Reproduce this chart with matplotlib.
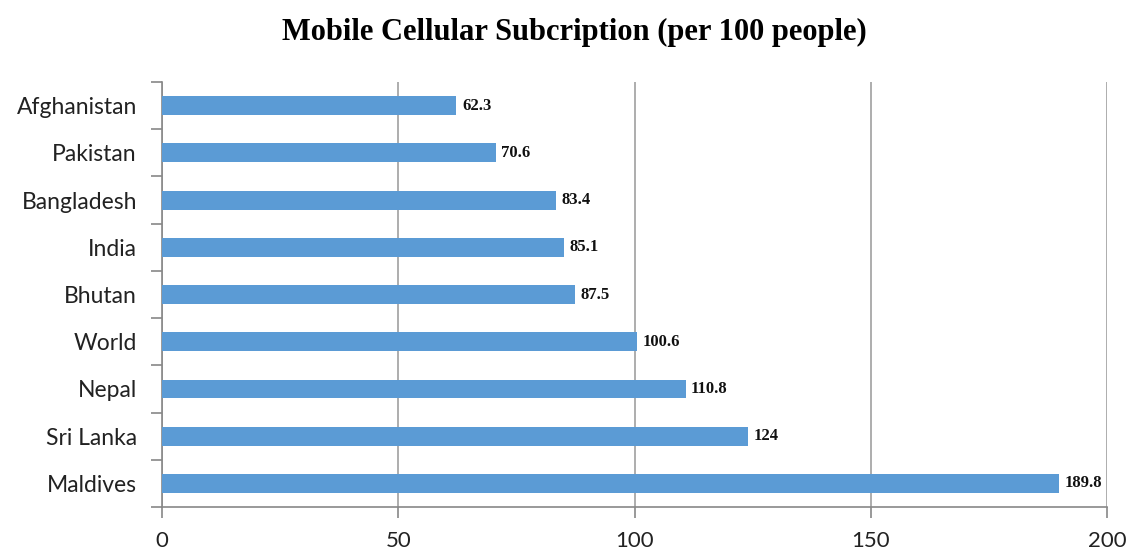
import matplotlib
matplotlib.use("Agg")
import matplotlib.pyplot as plt
import numpy as np

countries = ["Afghanistan", "Pakistan", "Bangladesh", "India", "Bhutan",
             "World", "Nepal", "Sri Lanka", "Maldives"]
values = [62.3, 70.6, 83.4, 85.1, 87.5, 100.6, 110.8, 124, 189.8]
value_labels = ["62.3", "70.6", "83.4", "85.1", "87.5", "100.6", "110.8", "124", "189.8"]
xticks = [0, 50, 100, 150, 200]

title = "Mobile Cellular Subcription (per 100 people)"

fig = plt.figure(figsize=(11.28, 5.54), dpi=100)
ax = fig.add_axes([0.1436, 0.0848, 0.9814 - 0.1436, 0.852 - 0.0848])

y = np.arange(len(countries))
ax.barh(y, values, height=0.4, color="#5B9BD5", zorder=3)
ax.set_ylim(len(countries) - 0.5, -0.5)
ax.set_xlim(0, 200)

ax.set_yticks(y)
ax.set_yticklabels(countries, fontfamily="Lato", fontsize=16.5, color="#222222")
ax.set_yticks(np.arange(-0.5, len(countries), 1), minor=True)
ax.tick_params(axis="y", which="major", length=0, pad=18)
ax.tick_params(axis="y", which="minor", length=8, color="#888888", width=1.2)

ax.set_xticks(xticks)
ax.set_xticklabels([str(t) for t in xticks], fontfamily="Lato", fontsize=16, color="#222222")
ax.tick_params(axis="x", length=8, color="#888888", width=1.2, pad=9)

ax.grid(axis="x", color="#A0A0A0", linewidth=1.2, zorder=0)
for s in ["top", "right"]:
    ax.spines[s].set_visible(False)
for s in ["left", "bottom"]:
    ax.spines[s].set_color("#888888")
    ax.spines[s].set_linewidth(1.2)

for yi, v, lab in zip(y, values, value_labels):
    ax.annotate(lab, (v, yi), xytext=(4, 0), textcoords="offset points",
                va="center", ha="left", fontfamily="Liberation Serif",
                fontweight="bold", fontsize=12, color="#111111")

fig.text(574 / 1128, 1 - 32 / 554, title, ha="center", va="center",
         fontfamily="Liberation Serif", fontweight="bold", fontsize=22)

fig.savefig("out.png", dpi=100)
